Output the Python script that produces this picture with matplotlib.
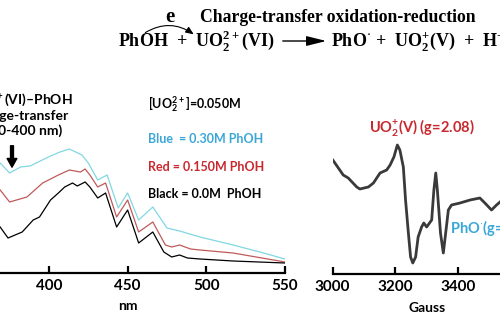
import matplotlib
matplotlib.use('Agg')
import matplotlib.pyplot as plt
from matplotlib.patches import FancyArrowPatch

plt.rcParams['font.family'] = ['Lato', 'DejaVu Sans']
plt.rcParams['mathtext.fontset'] = 'custom'
plt.rcParams['mathtext.bf'] = 'Liberation Serif:bold'
plt.rcParams['mathtext.sf'] = 'Lato:bold'

# UV-vis spectra (absorbance, arbitrary units)
nm_black = [369, 374, 383, 390, 394, 401, 406, 410, 415, 418, 423, 426, 431, 436, 443,
            450, 457, 466, 473, 478, 483, 488, 496, 517, 550]
abs_black = [0.46, 0.35, 0.41, 0.53, 0.56, 0.73, 0.80, 0.86, 0.90, 0.87, 0.91, 0.86, 0.75, 0.80, 0.46,
             0.63, 0.30, 0.41, 0.21, 0.16, 0.18, 0.15, 0.14, 0.12, 0.10]

nm_red = [369, 375, 386, 391, 396, 406, 413, 420, 423, 426, 431, 436, 443, 450, 457,
          466, 474, 478, 483, 490, 496, 517, 550]
abs_red = [0.83, 0.71, 0.76, 0.83, 0.90, 0.98, 1.03, 1.01, 1.04, 0.98, 0.86, 0.90, 0.56, 0.73, 0.41,
           0.51, 0.28, 0.26, 0.28, 0.24, 0.23, 0.20, 0.11]

nm_blue = [369, 375, 382, 388, 401, 407, 413, 421, 425, 431, 437, 444, 450, 457, 466,
           475, 483, 496, 517, 534, 550]
abs_blue = [1.10, 1.00, 1.06, 1.07, 1.17, 1.21, 1.24, 1.18, 1.10, 0.93, 0.98, 0.65, 0.80, 0.53, 0.66,
            0.45, 0.42, 0.36, 0.28, 0.21, 0.14]

# EPR spectrum
gauss = [3001, 3034, 3050, 3077, 3087, 3114, 3130, 3151, 3172, 3183, 3195, 3206, 3214, 3225,
         3232, 3241, 3248, 3255, 3264, 3272, 3283, 3290, 3299, 3315, 3322, 3328, 3333, 3343,
         3352, 3358, 3368, 3378, 3405, 3437, 3468, 3484, 3505, 3521, 3532]
epr = [114, 99, 96, 87, 85, 87, 91, 101, 104, 109, 117, 129, 124, 107,
       74, 41, 17, 11, 17, 37, 47, 51, 47, 54, 84, 101, 84, 41,
       21, 37, 64, 69, 71, 74, 76, 71, 64, 69, 72]

uv_ticks = [400, 450, 500, 550]
epr_ticks = [3000, 3200, 3400]

W, H = 500, 321


def fpos(x, y):
    return x / W, 1 - y / H


def style(ax, ticks):
    for s in ['left', 'right', 'top']:
        ax.spines[s].set_visible(False)
    ax.spines['bottom'].set_linewidth(1.6)
    ax.set_yticks([])
    ax.set_xticks(ticks)
    ax.tick_params(axis='x', direction='in', length=5, width=1.6, pad=4, labelsize=11)
    for lbl in ax.get_xticklabels():
        lbl.set_fontweight('bold')
    ax.patch.set_alpha(0)


fig = plt.figure(figsize=(5, 3.21), dpi=100)

# left: UV-vis
ax1 = fig.add_axes([0, 1 - 273 / H, 285 / W, (273 - 140) / H])
ax1.plot(nm_blue, abs_blue, color='#80d8e2', lw=0.9)
ax1.plot(nm_red, abs_red, color='#c05a5a', lw=0.9)
ax1.plot(nm_black, abs_black, color='black', lw=0.9)
ax1.set_xlim(368.9, 550)
ax1.set_ylim(0, 1.33)
style(ax1, uv_ticks)
ax1.text(450, -0.278, 'nm', transform=ax1.get_xaxis_transform(), ha='center', va='baseline',
         fontsize=10, fontweight='bold')

# right: EPR
ax2 = fig.add_axes([332.5 / W, 1 - 274 / H, (W - 332.5) / W, 140 / H])
ax2.plot(gauss, epr, color='#3a3a3a', lw=2.0)
ax2.set_xlim(3000, 3532)
ax2.set_ylim(0, 140)
style(ax2, epr_ticks)
ax2.text(3300, -0.27, 'Gauss', transform=ax2.get_xaxis_transform(), ha='center', va='baseline',
         fontsize=10, fontweight='bold')

# labels in the left panel
fig.text(*fpos(148, 108), r'[UO$_\mathsf{2}^\mathsf{2+}$]=0.050M', fontsize=9, fontweight='bold', va='baseline')
fig.text(*fpos(148, 143), 'Blue  = 0.30M PhOH', fontsize=9, fontweight='bold', color='#3aa7d8', va='baseline')
fig.text(*fpos(148, 171), 'Red = 0.150M PhOH', fontsize=9, fontweight='bold', color='#c8282e', va='baseline')
fig.text(*fpos(148, 198), 'Black = 0.0M  PhOH', fontsize=9, fontweight='bold', va='baseline')

fig.text(*fpos(20, 105), r'UO$_\mathsf{2}^\mathsf{2+}$(VI)–PhOH', fontsize=10, fontweight='bold', ha='center', va='baseline')
fig.text(*fpos(20, 120), 'Charge-transfer', fontsize=10, fontweight='bold', ha='center', va='baseline')
fig.text(*fpos(20, 135), '(300-400 nm)', fontsize=10, fontweight='bold', ha='center', va='baseline')
fig.add_artist(FancyArrowPatch(fpos(12, 143), fpos(12, 170), transform=fig.transFigure,
                               arrowstyle='simple,head_width=1.0,head_length=0.9,tail_width=0.3',
                               mutation_scale=7, color='black'))

# labels in the right panel
fig.text(*fpos(422, 132), r'UO$_\mathsf{2}^\mathsf{+}$(V) (g=2.08)', fontsize=10.5, fontweight='bold',
         color='#c8282e', ha='center', va='baseline')
fig.text(*fpos(450, 233), r'PhO$^\mathsf{\cdot}$(g=2.00)', fontsize=10.5, fontweight='bold',
         color='#3aa7d8', va='baseline')

# reaction scheme on top
serif = dict(family='Liberation Serif', fontweight='bold', va='baseline')
fig.text(*fpos(170, 22), 'e', fontsize=15, ha='center', **serif)
fig.text(*fpos(200, 22), 'Charge-transfer oxidation-reduction', fontsize=12.7, **serif)
fig.text(*fpos(118, 47), r'PhOH  +  UO$_\mathbf{2}^\mathbf{2+}$(VI)', fontsize=13, **serif)
fig.text(*fpos(331, 47), r'PhO$^{\cdot}$ +  UO$_\mathbf{2}^\mathbf{+}$(V)  +  H$^\mathbf{+}$', fontsize=13, **serif)
fig.add_artist(FancyArrowPatch(fpos(280, 41), fpos(329, 41), transform=fig.transFigure,
                               arrowstyle='-|>,head_length=1.2,head_width=0.3', mutation_scale=10,
                               lw=1.0, color='black'))
fig.add_artist(FancyArrowPatch(fpos(143, 34), fpos(196, 36), transform=fig.transFigure,
                               connectionstyle='arc3,rad=-0.35', arrowstyle='-|>,head_length=0.6,head_width=0.25',
                               mutation_scale=8, lw=0.8, color='black'))

fig.savefig('out.png', dpi=100)
